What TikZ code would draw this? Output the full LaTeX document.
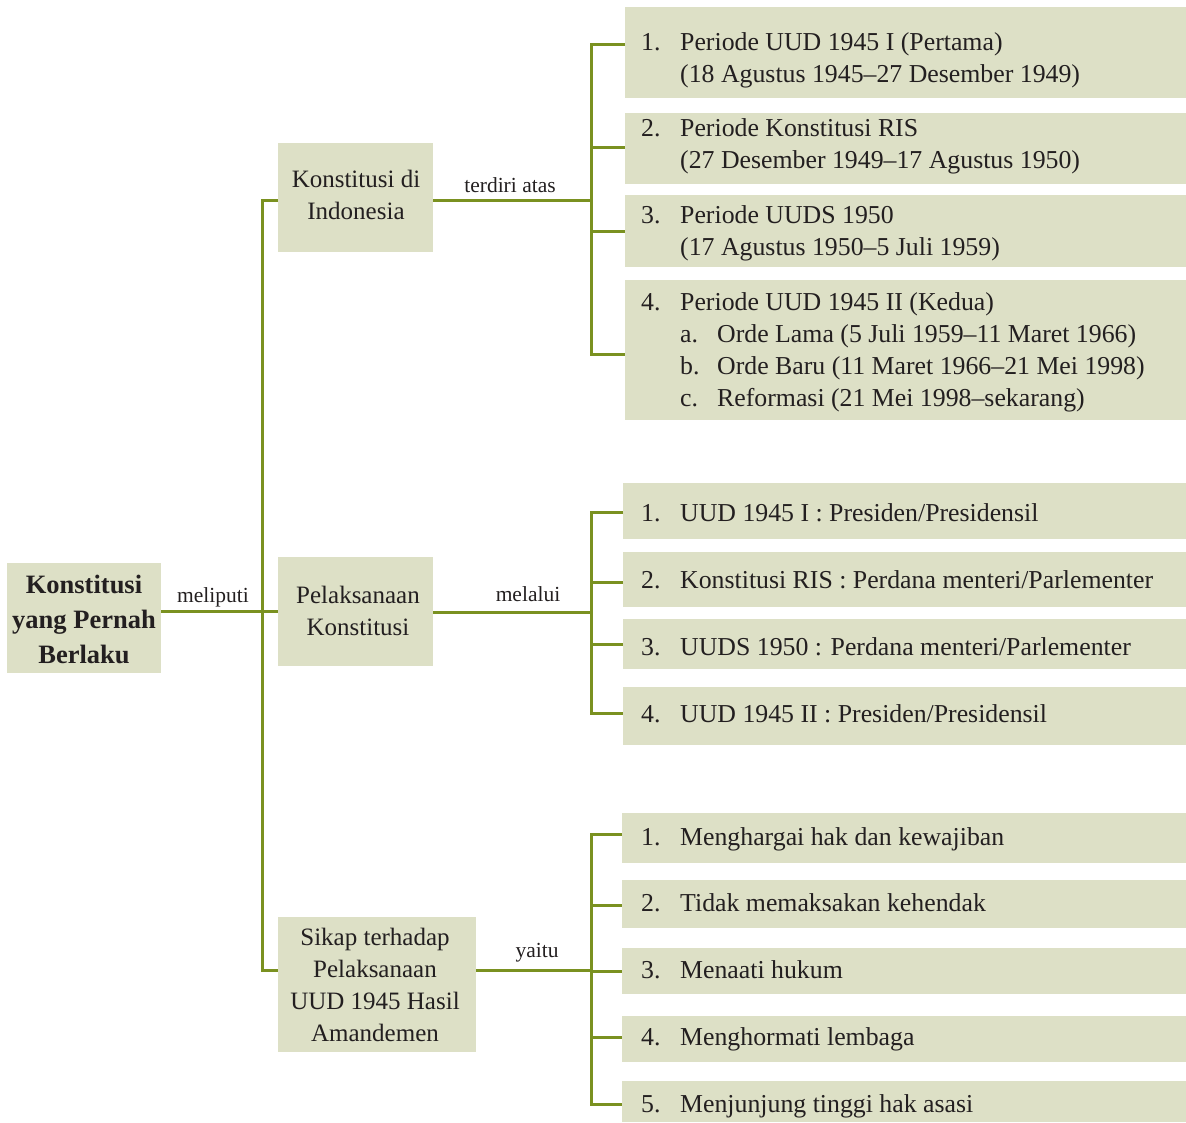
\documentclass[tikz,border=0pt]{standalone}
\usepackage{fontspec}
\setmainfont{Liberation Serif}
\usepackage{array}
\definecolor{boxfill}{RGB}{221,224,198}
\definecolor{olive}{RGB}{122,145,32}
\definecolor{ink}{RGB}{35,31,32}
\tikzset{
  box/.style={fill=boxfill, draw=none, inner sep=0pt, anchor=north west},
  conn/.style={draw=olive, line width=3pt},
  listtxt/.style={inner sep=0pt, text=ink, anchor=base west, font=\fontsize{25.8}{32}\selectfont},
  boxtxt/.style={inner sep=0pt, text=ink, anchor=base, font=\fontsize{25}{32}\selectfont},
  roottxt/.style={inner sep=0pt, text=ink, anchor=base, font=\fontsize{26.5}{35}\selectfont\bfseries},
  lbl/.style={inner sep=0pt, text=ink, anchor=base, font=\fontsize{21.5}{26}\selectfont}
}
\newcommand{\two}[2]{\begin{tabular}[t]{@{}p{39pt}@{}l@{}}#1 & #2\end{tabular}}
\begin{document}
\begin{tikzpicture}[x=1pt,y=-1pt]
\useasboundingbox (0,0) rectangle (1186,1122);
% boxes
\node[box, minimum width=154pt, minimum height=110pt] (root) at (7,563) {};
\node[box, minimum width=155pt, minimum height=109pt] (kdi) at (278,143) {};
\node[box, minimum width=155pt, minimum height=109pt] (pel) at (278,557) {};
\node[box, minimum width=198pt, minimum height=135pt] (sik) at (278,917) {};
\node[box, minimum width=561pt, minimum height=91pt] (p1) at (625,7) {};
\node[box, minimum width=561pt, minimum height=71pt] (p2) at (625,113) {};
\node[box, minimum width=561pt, minimum height=72pt] (p3) at (625,195) {};
\node[box, minimum width=561pt, minimum height=140pt] (p4) at (625,280) {};
\node[box, minimum width=563pt, minimum height=56pt] (m1) at (623,483) {};
\node[box, minimum width=563pt, minimum height=55pt] (m2) at (623,552) {};
\node[box, minimum width=563pt, minimum height=50pt] (m3) at (623,619) {};
\node[box, minimum width=563pt, minimum height=58pt] (m4) at (623,687) {};
\node[box, minimum width=564pt, minimum height=50pt] (s1) at (622,813) {};
\node[box, minimum width=564pt, minimum height=48pt] (s2) at (622,880) {};
\node[box, minimum width=564pt, minimum height=46pt] (s3) at (622,948) {};
\node[box, minimum width=564pt, minimum height=46pt] (s4) at (622,1016) {};
\node[box, minimum width=564pt, minimum height=41pt] (s5) at (622,1081) {};
% texts in boxes
\node[roottxt] (roott) at (84,593) {\begin{tabular}[t]{@{}c@{}}Konstitusi\\yang Pernah\\Berlaku\end{tabular}};
\node[boxtxt] (kdit) at (356,187) {\begin{tabular}[t]{@{}c@{}}Konstitusi di\\Indonesia\end{tabular}};
\node[boxtxt] (pelt) at (358,603) {\begin{tabular}[t]{@{}c@{}}Pelaksanaan\\Konstitusi\end{tabular}};
\node[boxtxt] (sikt) at (375,945) {\begin{tabular}[t]{@{}c@{}}Sikap terhadap\\Pelaksanaan\\UUD 1945 Hasil\\Amandemen\end{tabular}};
\node[listtxt] (p1t) at (641,50) {\two{1.}{Periode UUD 1945 I (Pertama)\\ & (18 Agustus 1945--27 Desember 1949)}};
\node[listtxt] (p2t) at (641,136) {\two{2.}{Periode Konstitusi RIS\\ & (27 Desember 1949--17 Agustus 1950)}};
\node[listtxt] (p3t) at (641,223) {\two{3.}{Periode UUDS 1950\\ & (17 Agustus 1950--5 Juli 1959)}};
\node[listtxt] (p4t) at (641,310) {\begin{tabular}[t]{@{}p{39pt}@{}p{37pt}@{}l@{}}
4. & \multicolumn{2}{@{}l@{}}{Periode UUD 1945 II (Kedua)}\\
 & a. & Orde Lama (5 Juli 1959--11 Maret 1966)\\
 & b. & Orde Baru (11 Maret 1966--21 Mei 1998)\\
 & c. & Reformasi (21 Mei 1998--sekarang)\end{tabular}};
\node[listtxt] (m1t) at (641,521) {\two{1.}{UUD 1945 I : Presiden/Presidensil}};
\node[listtxt] (m2t) at (641,588) {\two{2.}{Konstitusi RIS : Perdana menteri/Parlementer}};
\node[listtxt] (m3t) at (641,655) {\two{3.}{UUDS 1950 : Perdana menteri/Parlementer}};
\node[listtxt] (m4t) at (641,722) {\two{4.}{UUD 1945 II : Presiden/Presidensil}};
\node[listtxt] (s1t) at (641,845) {\two{1.}{Menghargai hak dan kewajiban}};
\node[listtxt] (s2t) at (641,911) {\two{2.}{Tidak memaksakan kehendak}};
\node[listtxt] (s3t) at (641,978) {\two{3.}{Menaati hukum}};
\node[listtxt] (s4t) at (641,1045) {\two{4.}{Menghormati lembaga}};
\node[listtxt] (s5t) at (641,1112) {\two{5.}{Menjunjung tinggi hak asasi}};
% connector labels
\node[lbl] (l0) at (213,602) {meliputi};
\node[lbl] (l1) at (510,192) {terdiri atas};
\node[lbl] (l2) at (528,601) {melalui};
\node[lbl] (l3) at (537,957) {yaitu};
% trunk
\coordinate (t1) at (262,200);
\coordinate (t3) at (262,970);
\draw[conn] (root.east |- pel.west) -- (pel.west);
\draw[conn] (kdi.west |- t1) -- (t1) -- (t3) -- (sik.west |- t3);
% group 1
\coordinate (a0) at (591,200);
\coordinate (a1) at (591,44);
\coordinate (a2) at (591,147);
\coordinate (a3) at (591,231);
\coordinate (a4) at (591,354);
\draw[conn] (kdi.east |- a0) -- (a0);
\draw[conn] (p1.west |- a1) -- (a1) -- (a4) -- (p4.west |- a4);
\draw[conn] (a2) -- (p2.west |- a2);
\draw[conn] (a3) -- (p3.west |- a3);
% group 2
\coordinate (b0) at (591,612);
\coordinate (b1) at (591,512);
\coordinate (b2) at (591,582);
\coordinate (b3) at (591,644);
\coordinate (b4) at (591,713);
\draw[conn] (pel.east |- b0) -- (b0);
\draw[conn] (m1.west |- b1) -- (b1) -- (b4) -- (m4.west |- b4);
\draw[conn] (b2) -- (m2.west |- b2);
\draw[conn] (b3) -- (m3.west |- b3);
% group 3
\coordinate (c0) at (591,970);
\coordinate (c1) at (591,834);
\coordinate (c2) at (591,905);
\coordinate (c3) at (591,971);
\coordinate (c4) at (591,1037);
\coordinate (c5) at (591,1104);
\draw[conn] (sik.east |- c0) -- (c0);
\draw[conn] (s1.west |- c1) -- (c1) -- (c5) -- (s5.west |- c5);
\draw[conn] (c2) -- (s2.west |- c2);
\draw[conn] (c3) -- (s3.west |- c3);
\draw[conn] (c4) -- (s4.west |- c4);
\end{tikzpicture}
\end{document}
